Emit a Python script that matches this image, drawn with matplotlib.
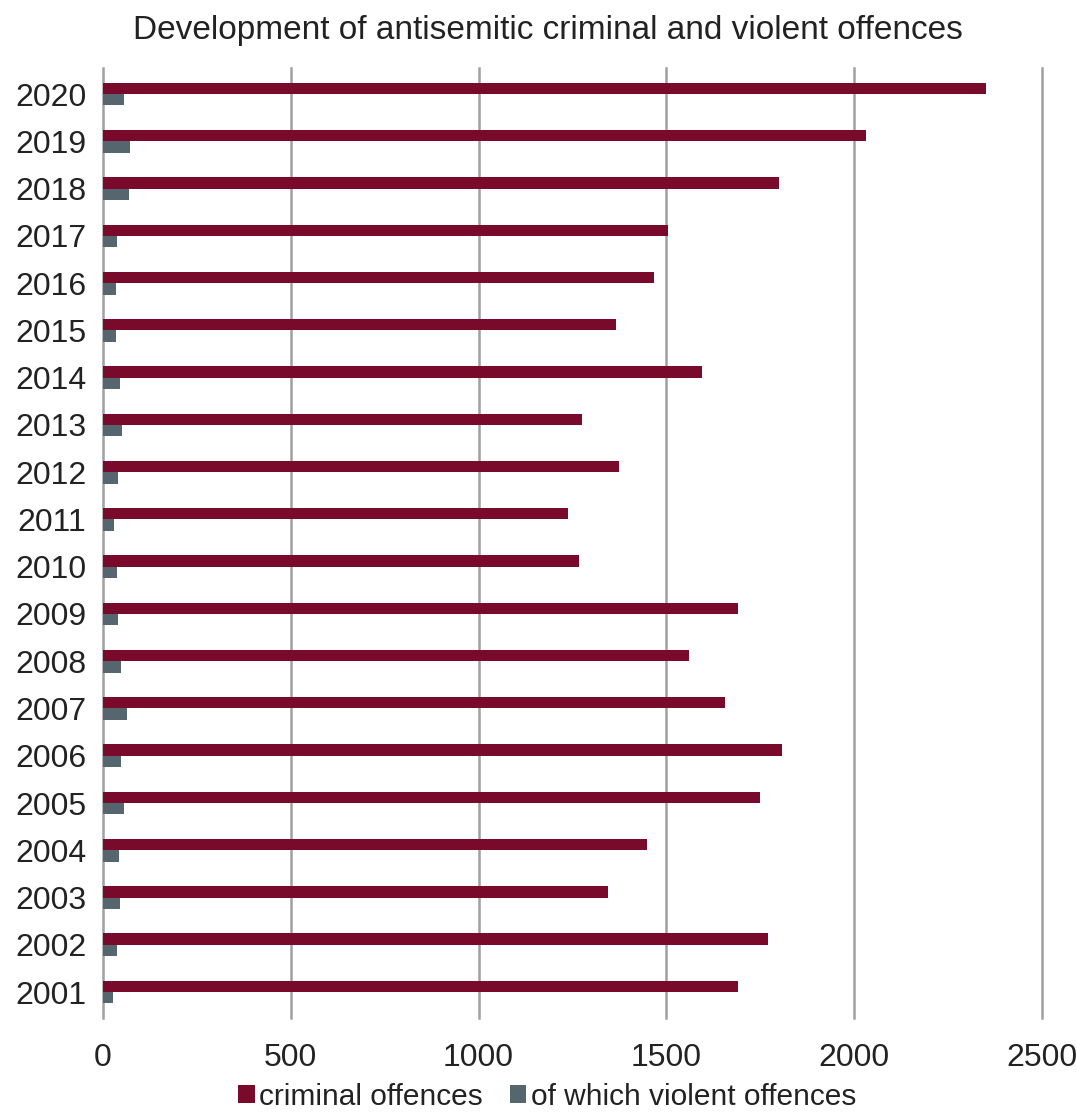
import matplotlib
matplotlib.use("Agg")
import matplotlib.pyplot as plt
import numpy as np

years = [2001, 2002, 2003, 2004, 2005, 2006, 2007, 2008, 2009, 2010,
         2011, 2012, 2013, 2014, 2015, 2016, 2017, 2018, 2019, 2020]
criminal = [1691, 1771, 1344, 1449, 1748, 1809, 1657, 1559, 1690, 1268,
            1239, 1374, 1275, 1596, 1366, 1468, 1504, 1799, 2032, 2351]
violent = [28, 38, 46, 44, 56, 49, 64, 47, 41, 37,
           29, 41, 51, 45, 36, 34, 37, 69, 73, 57]
xticks = [0, 500, 1000, 1500, 2000, 2500]

plt.rcParams['font.family'] = ['Liberation Sans', 'DejaVu Sans']

fig = plt.figure(figsize=(10.77, 11.17), dpi=100)
ax = fig.add_axes([0.0956, 0.0886, 0.8719, 0.8504])

y = np.arange(len(years))
h = 0.24
ax.barh(y + h / 2, criminal, height=h, color='#7A0A2C', label='criminal offences', zorder=3)
ax.barh(y - h / 2, violent, height=h, color='#56666E', label='of which violent offences', zorder=3)

ax.set_xlim(0, 2500)
ax.set_ylim(-0.55, 19.55)
ax.set_xticks(xticks)
ax.set_xticklabels([str(t) for t in xticks], fontsize=23, color='#222222')
ax.set_yticks(y)
ax.set_yticklabels([str(v) for v in years], fontsize=23, color='#222222')
ax.tick_params(axis='both', length=0)
ax.tick_params(axis='x', pad=18)
ax.tick_params(axis='y', pad=12)
ax.xaxis.grid(True, color='#A0A0A0', linewidth=1.8, zorder=0)
for line in ax.get_xgridlines():
    line.set_clip_on(False)
for s in ax.spines.values():
    s.set_visible(False)

fig.suptitle('Development of antisemitic criminal and violent offences',
             x=0.509, y=0.987, fontsize=24, color='#222222')
fig.legend(loc='lower center', bbox_to_anchor=(0.508, 0.0), ncol=2, frameon=False,
           fontsize=21.5, handlelength=0.55, handleheight=0.55, handletextpad=0.15,
           columnspacing=0.9, labelcolor='#222222', borderpad=0.1, borderaxespad=0.1)

fig.savefig('out.png', dpi=100)
